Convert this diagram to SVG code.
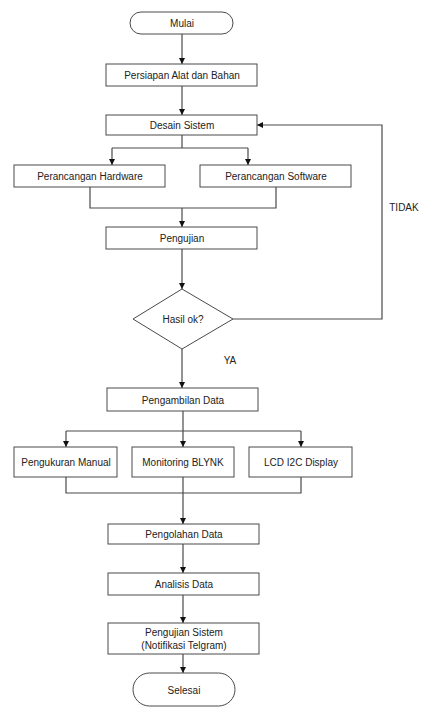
<svg xmlns="http://www.w3.org/2000/svg" width="436" height="710" viewBox="0 0 436 710">
<style>
.b{fill:#fff;stroke:#4a4a4a;stroke-width:1}
.c{fill:none;stroke:#4a4a4a;stroke-width:1.2}
.t{font-family:"Liberation Sans",Arial,sans-serif;font-size:10px;fill:#222;text-anchor:middle;dominant-baseline:central}
</style>
<defs>
<marker id="a" viewBox="0 0 10 10" refX="10" refY="5" markerWidth="6" markerHeight="6" markerUnits="userSpaceOnUse" orient="auto">
<path d="M0,0L10,5L0,10z" fill="#111"/>
</marker>
</defs>
<rect width="436" height="710" fill="#fff"/>
<g id="connectors">
<path class="c" d="M182,34V64" marker-end="url(#a)"/>
<path class="c" d="M182,86V115" marker-end="url(#a)"/>
<path class="c" d="M182,135V148"/>
<path class="c" d="M112,148H248"/>
<path class="c" d="M112,148V165" marker-end="url(#a)"/>
<path class="c" d="M248,148V165" marker-end="url(#a)"/>
<path class="c" d="M90,187V208H276V187"/>
<path class="c" d="M182,208V227" marker-end="url(#a)"/>
<path class="c" d="M182,249V289" marker-end="url(#a)"/>
<path class="c" d="M233,319H382V125H257" marker-end="url(#a)"/>
<path class="c" d="M182,349V388" marker-end="url(#a)"/>
<path class="c" d="M183,411V431"/>
<path class="c" d="M66,431H301"/>
<path class="c" d="M66,431V447" marker-end="url(#a)"/>
<path class="c" d="M183,431V447" marker-end="url(#a)"/>
<path class="c" d="M301,431V447" marker-end="url(#a)"/>
<path class="c" d="M66,477V493H301V477"/>
<path class="c" d="M183,477V524" marker-end="url(#a)"/>
<path class="c" d="M183,544V573" marker-end="url(#a)"/>
<path class="c" d="M183,595V623" marker-end="url(#a)"/>
<path class="c" d="M183,654V673" marker-end="url(#a)"/>
<text class="t" x="404" y="207">TIDAK</text>
<text class="t" x="230" y="360">YA</text>
</g>
<g id="mulai"><rect class="b" x="130" y="12" width="103" height="22" rx="11"/><text class="t" x="182" y="23">Mulai</text></g>
<g id="persiapan"><rect class="b" x="106" y="64" width="151" height="22"/><text class="t" x="182" y="75">Persiapan Alat dan Bahan</text></g>
<g id="desain"><rect class="b" x="106" y="115" width="151" height="20"/><text class="t" x="182" y="125">Desain Sistem</text></g>
<g id="hardware"><rect class="b" x="14" y="165" width="151" height="22"/><text class="t" x="90" y="176">Perancangan Hardware</text></g>
<g id="software"><rect class="b" x="200" y="165" width="151" height="22"/><text class="t" x="276" y="176">Perancangan Software</text></g>
<g id="pengujian"><rect class="b" x="106" y="227" width="151" height="22"/><text class="t" x="182" y="238">Pengujian</text></g>
<g id="hasil"><path class="b" d="M182,289L233,319L182,349L133,319z"/><text class="t" x="183" y="319">Hasil ok?</text></g>
<g id="pengambilan"><rect class="b" x="107" y="388" width="151" height="23"/><text class="t" x="183" y="400">Pengambilan Data</text></g>
<g id="manual"><rect class="b" x="14" y="447" width="103" height="30"/><text class="t" x="66" y="462">Pengukuran Manual</text></g>
<g id="blynk"><rect class="b" x="132" y="447" width="102" height="30"/><text class="t" x="183" y="462">Monitoring BLYNK</text></g>
<g id="lcd"><rect class="b" x="249" y="447" width="103" height="30"/><text class="t" x="301" y="462">LCD I2C Display</text></g>
<g id="pengolahan"><rect class="b" x="108" y="524" width="151" height="20"/><text class="t" x="184" y="534">Pengolahan Data</text></g>
<g id="analisis"><rect class="b" x="108" y="573" width="151" height="22"/><text class="t" x="184" y="584">Analisis Data</text></g>
<g id="pengujian-sistem"><rect class="b" x="108" y="623" width="151" height="31"/><text class="t" x="184" y="632">Pengujian Sistem</text><text class="t" x="184" y="645">(Notifikasi Telgram)</text></g>
<g id="selesai"><rect class="b" x="133" y="673" width="102" height="33" rx="16.5"/><text class="t" x="184" y="690">Selesai</text></g>
</svg>
